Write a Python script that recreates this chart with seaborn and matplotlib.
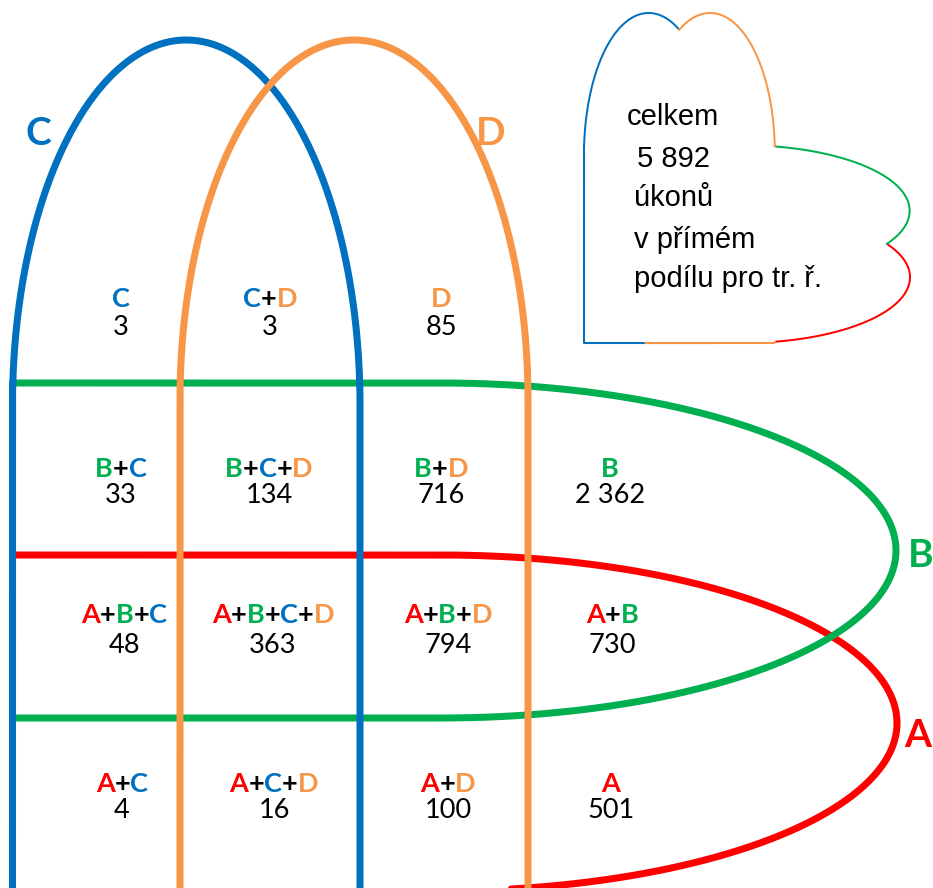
import numpy as np
import matplotlib
matplotlib.use("Agg")
import matplotlib.pyplot as plt
import seaborn as sns
from matplotlib.font_manager import FontProperties

# data
regions = ["C", "C+D", "D",
           "B+C", "B+C+D", "B+D", "B",
           "A+B+C", "A+B+C+D", "A+B+D", "A+B",
           "A+C", "A+C+D", "A+D", "A"]
counts = [3, 3, 85,
          33, 134, 716, 2362,
          48, 363, 794, 730,
          4, 16, 100, 501]
set_names = ["A", "B", "C", "D"]
set_colors = ["#FF0000", "#00B050", "#0070C0", "#F79646"]
note_lines = ["celkem", "{total}", "úkonů", "v přímém", "podílu pro tr. ř."]

# layout (pixels)
cell_x = [121, 270, 441, 121, 269, 441, 610, 124, 273, 448, 612, 122, 274, 448, 611]
cell_row = [0, 0, 0, 1, 1, 1, 1, 2, 2, 2, 2, 3, 3, 3, 3]
label_base = [307, 477, 623, 792]
count_base = [335, 503, 653, 818]
set_label_pos = {"A": (918, 747), "B": (921, 567), "C": (38, 145), "D": (491, 145)}
note_pos = [(627, 125), (637, 167), (634, 206), (634, 248), (634, 287)]

color_of = dict(zip(set_names, set_colors))


def fmt(n):
    return f"{n:,}".replace(",", " ")


def arch(x0, x1, top, yc, bottom, n=300):
    cx, a, b = (x0 + x1) / 2, (x1 - x0) / 2, yc - top
    t = np.linspace(np.pi, 0, n)
    xs = cx + a * np.cos(t)
    ys = yc - b * np.sin(t)
    return np.r_[x0, xs, x1, x0], np.r_[bottom, ys, bottom, bottom]


def lens(x0, top, bottom, cx, right, n=300):
    yc, b, a = (top + bottom) / 2, (bottom - top) / 2, right - cx
    t = np.linspace(np.pi / 2, -np.pi / 2, n)
    xs = cx + a * np.cos(t)
    ys = yc - b * np.sin(t)
    return np.r_[x0, xs, x0, x0], np.r_[top, ys, bottom, top]


shapes = {
    "A": lens(12.5, 555, 891, 441, 897),
    "B": lens(12.5, 383, 718, 441, 896),
    "C": arch(12.5, 360, 40, 405, 891),
    "D": arch(180, 528, 40, 400, 891),
}

sns.set_style("white")
fig = plt.figure(figsize=(9.33, 8.88), dpi=100)
ax = fig.add_axes([0, 0, 1, 1])

# main diagram
for name in set_names:
    x, y = shapes[name]
    sns.lineplot(x=x, y=y, sort=False, estimator=None, color=color_of[name],
                 linewidth=5.04, ax=ax, zorder=2)

# small outline of the union (top right)
sx, sy = 324 / 884.5, 328 / 851
for name in set_names:
    x, y = shapes[name]
    mx, my = 585 + (x - 12.5) * sx, 14 + (y - 40) * sy
    sns.lineplot(x=mx, y=my, sort=False, estimator=None, color=color_of[name],
                 linewidth=2.9, ax=ax, zorder=1)
for name in set_names:
    x, y = shapes[name]
    ax.fill(585 + (x - 12.5) * sx, 14 + (y - 40) * sy, color="white", lw=0, zorder=1.5)

fig.canvas.draw()
renderer = fig.canvas.get_renderer()
fp_lab = FontProperties(family="Lato", weight="bold", size=19.5)
fp_num = FontProperties(family="Lato", size=19.5)
fp_big = FontProperties(family="Lato", weight="bold", size=28)
fp_note = FontProperties(family="Liberation Sans", size=21)


def width(s, fp):
    return renderer.get_text_width_height_descent(s, fp, ismath=False)[0]


for lab, n, cx, r in zip(regions, counts, cell_x, cell_row):
    total_w = width(lab, fp_lab)
    x0 = cx - total_w / 2
    for i, ch in enumerate(lab):
        off = width(lab[:i], fp_lab) if i else 0
        ax.text(x0 + off, label_base[r], ch, color=color_of.get(ch, "black"),
                fontproperties=fp_lab, ha="left", va="baseline", zorder=5)
    ax.text(cx, count_base[r], fmt(n), color="black", fontproperties=fp_num,
            ha="center", va="baseline", zorder=5)

for name in set_names:
    px, py = set_label_pos[name]
    ax.text(px, py, name, color=color_of[name], fontproperties=fp_big,
            ha="center", va="baseline", zorder=5)

total = sum(counts)
for line, (px, py) in zip(note_lines, note_pos):
    ax.text(px, py, line.format(total=fmt(total)), color="black",
            fontproperties=fp_note, ha="left", va="baseline", zorder=5)

ax.set_xlim(0, 933)
ax.set_ylim(888, 0)
ax.axis("off")
fig.savefig("out.png", dpi=100)
